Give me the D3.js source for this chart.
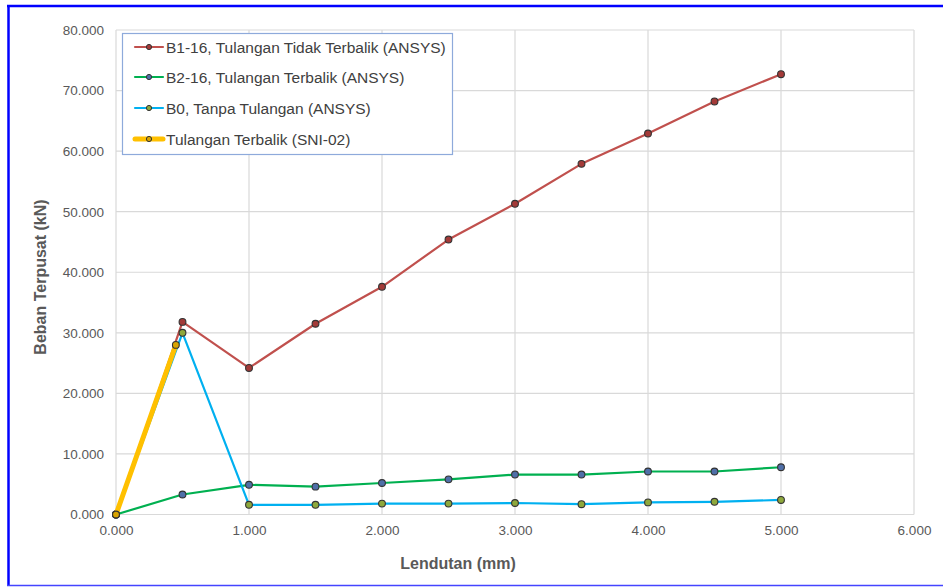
<!DOCTYPE html>
<html>
<head>
<meta charset="utf-8">
<script src="https://cdn.jsdelivr.net/npm/d3@7/dist/d3.min.js"></script>
<style>
  html, body { margin: 0; padding: 0; background: #fff; }
  svg { display: block; font-family: "Liberation Sans", Arial, sans-serif; }
</style>
</head>
<body>
<svg id="chart" width="943" height="587"></svg>
<script>
// Deflection (mm) vs concentrated load (kN)
const xB1 = [0, 0.5, 1.0, 1.5, 2.0, 2.5, 3.0, 3.5, 4.0, 4.5, 5.0];
const yB1 = [0, 31.8, 24.2, 31.5, 37.6, 45.4, 51.3, 57.9, 62.9, 68.2, 72.7];
const xB2 = [0, 0.5, 1.0, 1.5, 2.0, 2.5, 3.0, 3.5, 4.0, 4.5, 5.0];
const yB2 = [0, 3.3, 4.9, 4.6, 5.2, 5.8, 6.6, 6.6, 7.1, 7.1, 7.8];
const xB0 = [0, 0.5, 1.0, 1.5, 2.0, 2.5, 3.0, 3.5, 4.0, 4.5, 5.0];
const yB0 = [0, 30.0, 1.6, 1.6, 1.8, 1.8, 1.9, 1.7, 2.0, 2.1, 2.4];
const xSNI = [0, 0.45];
const ySNI = [0, 28.0];

const xTicks = [0, 1, 2, 3, 4, 5, 6];
const yTicks = [0, 10, 20, 30, 40, 50, 60, 70, 80];

const seriesNames = [
  "B1-16, Tulangan Tidak Terbalik (ANSYS)",
  "B2-16, Tulangan Terbalik (ANSYS)",
  "B0, Tanpa Tulangan (ANSYS)",
  "Tulangan Terbalik (SNI-02)"
];

const series = [
  { name: seriesNames[0], xs: xB1, ys: yB1, stroke: "#c0504d", width: 2.2, fill: "#a33a38" },
  { name: seriesNames[1], xs: xB2, ys: yB2, stroke: "#00b050", width: 2.2, fill: "#4f6fa8" },
  { name: seriesNames[2], xs: xB0, ys: yB0, stroke: "#00b0f0", width: 2.2, fill: "#8ea83c" },
  { name: seriesNames[3], xs: xSNI, ys: ySNI, stroke: "#ffc000", width: 5, fill: "#d9a400" }
];

const svg = d3.select("#chart");

// outer frame
svg.append("line").attr("x1", 8.5).attr("x2", 8.5).attr("y1", 5).attr("y2", 586)
  .attr("stroke", "#0000ff").attr("stroke-width", 2.5);
svg.append("line").attr("x1", 7).attr("x2", 943).attr("y1", 6).attr("y2", 6)
  .attr("stroke", "#0000ff").attr("stroke-width", 2.5);
svg.append("line").attr("x1", 7).attr("x2", 943).attr("y1", 585.5).attr("y2", 585.5)
  .attr("stroke", "#4444ff").attr("stroke-width", 1.5);

const plot = { left: 116, right: 914, top: 30, bottom: 514.5 };

const x = d3.scaleLinear().domain([0, 6]).range([plot.left, plot.right]);
const y = d3.scaleLinear().domain([0, 80]).range([plot.bottom, plot.top]);

const fmt = d3.format(".3f");

// gridlines
const grid = svg.append("g");
grid.selectAll("line.v").data(xTicks).join("line")
  .attr("x1", d => x(d)).attr("x2", d => x(d))
  .attr("y1", plot.top).attr("y2", plot.bottom)
  .attr("stroke", "#d9d9d9").attr("stroke-width", 1.2);
grid.selectAll("line.h").data(yTicks).join("line")
  .attr("x1", plot.left).attr("x2", plot.right)
  .attr("y1", d => y(d)).attr("y2", d => y(d))
  .attr("stroke", "#d9d9d9").attr("stroke-width", 1.2);

// axes (labels only)
const xAxis = svg.append("g").attr("transform", `translate(0,${plot.bottom})`)
  .call(d3.axisBottom(x).tickValues(xTicks).tickFormat(fmt).tickSize(0).tickPadding(11));
const yAxis = svg.append("g").attr("transform", `translate(${plot.left},0)`)
  .call(d3.axisLeft(y).tickValues(yTicks).tickFormat(fmt).tickSize(0).tickPadding(12));
[xAxis, yAxis].forEach(a => {
  a.select(".domain").remove();
  a.selectAll("text").attr("fill", "#595959").attr("font-size", 13.5)
    .attr("font-family", "'Liberation Sans', Arial, sans-serif");
});

// axis titles
svg.append("text").attr("x", 458).attr("y", 569).attr("text-anchor", "middle")
  .attr("font-size", 16).attr("font-weight", "bold").attr("fill", "#595959")
  .text("Lendutan (mm)");
svg.append("text").attr("transform", "translate(46,277) rotate(-90)")
  .attr("text-anchor", "middle").attr("font-size", 16).attr("font-weight", "bold")
  .attr("fill", "#595959").text("Beban Terpusat (kN)");

// series lines and markers
const line = d3.line().x(d => x(d[0])).y(d => y(d[1]));
series.forEach(s => {
  const pts = s.xs.map((v, k) => [v, s.ys[k]]);
  const g = svg.append("g");
  g.append("path").datum(pts).attr("d", line)
    .attr("fill", "none").attr("stroke", s.stroke).attr("stroke-width", s.width)
    .attr("stroke-linejoin", "round").attr("stroke-linecap", "round");
  g.selectAll("circle").data(pts).join("circle")
    .attr("cx", d => x(d[0])).attr("cy", d => y(d[1])).attr("r", 3.4)
    .attr("fill", s.fill).attr("stroke", "#333333").attr("stroke-width", 1.1);
});

// legend
const lg = svg.append("g");
lg.append("rect").attr("x", 122.5).attr("y", 33.5).attr("width", 330).attr("height", 121)
  .attr("fill", "#ffffff").attr("stroke", "#8eaadb").attr("stroke-width", 1.2);
const legY = [47, 77, 108, 139];
series.forEach((s, i) => {
  const row = lg.append("g").attr("transform", `translate(0,${legY[i]})`);
  row.append("line").attr("x1", 135).attr("x2", 163).attr("y1", 0).attr("y2", 0)
    .attr("stroke", s.stroke).attr("stroke-width", s.width).attr("stroke-linecap", "round");
  row.append("circle").attr("cx", 149).attr("cy", 0).attr("r", 2.6)
    .attr("fill", s.fill).attr("stroke", "#333333").attr("stroke-width", 1);
  row.append("text").attr("x", 166).attr("y", 0).attr("dy", "0.36em")
    .attr("font-size", 15.5).attr("fill", "#404040").text(s.name);
});
</script>
</body>
</html>
